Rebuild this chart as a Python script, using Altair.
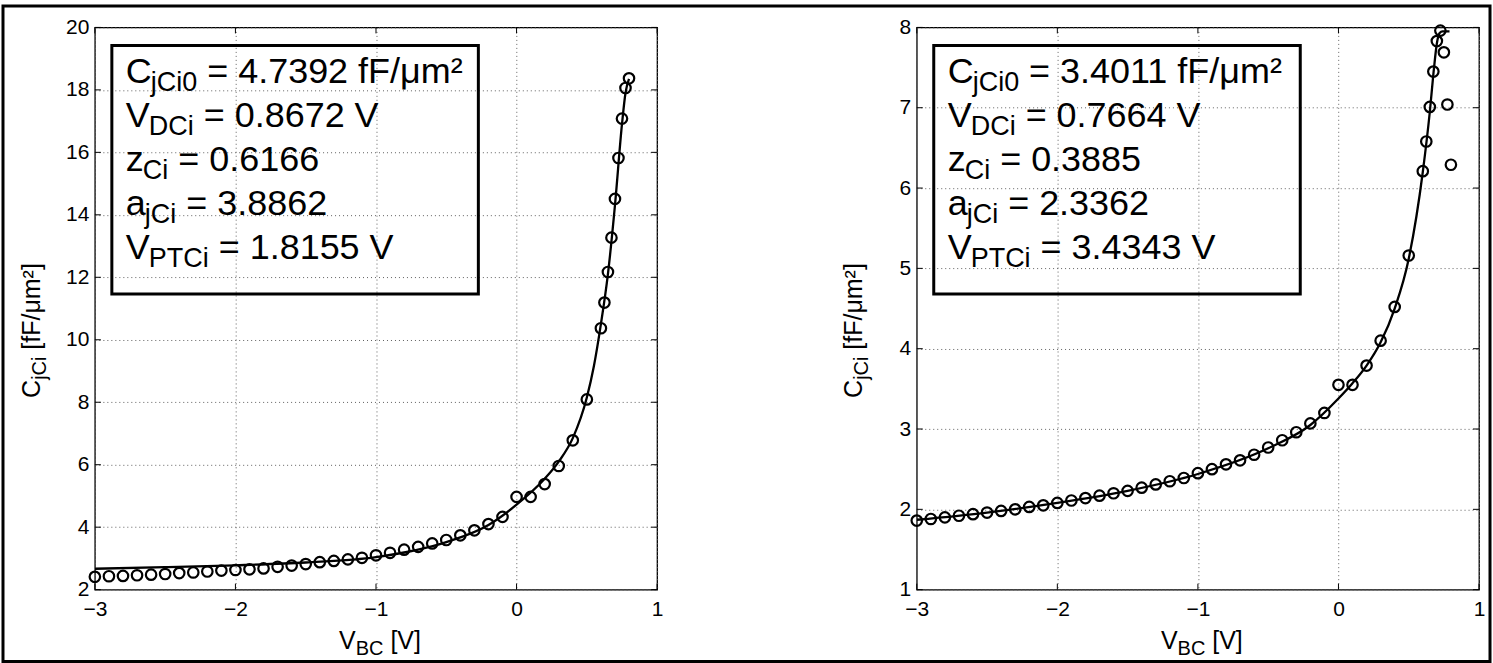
import altair as alt
import pandas as pd

# ---------------- data ----------------
X_TICKS = [-3, -2, -1, 0, 1]
Y_TICKS_L = [2, 4, 6, 8, 10, 12, 14, 16, 18, 20]
Y_TICKS_R = [1, 2, 3, 4, 5, 6, 7, 8]

vbc_l = [-3.0, -2.9, -2.8, -2.7, -2.6, -2.5, -2.4, -2.3, -2.2, -2.1, -2.0, -1.9,
         -1.8, -1.7, -1.6, -1.5, -1.4, -1.3, -1.2, -1.1, -1.0, -0.9, -0.8, -0.7,
         -0.6, -0.5, -0.4, -0.3, -0.2, -0.1, 0.0, 0.1, 0.2, 0.3, 0.4, 0.5,
         0.6, 0.625, 0.65, 0.675, 0.7, 0.725, 0.75, 0.775, 0.8]
cj_l = [2.41, 2.43, 2.44, 2.46, 2.48, 2.50, 2.53, 2.55, 2.58, 2.61, 2.63, 2.65,
        2.68, 2.73, 2.77, 2.82, 2.88, 2.92, 2.97, 3.02, 3.10, 3.18, 3.28, 3.37,
        3.48, 3.59, 3.74, 3.90, 4.10, 4.33, 4.97, 4.97, 5.38, 5.96, 6.78, 8.09,
        10.37, 11.19, 12.17, 13.27, 14.51, 15.82, 17.08, 18.06, 18.37]
fit_v_l = [-3.0, -2.5, -2.0, -1.5, -1.0, -0.5, -0.2, 0.0, 0.2, 0.3, 0.4, 0.5,
           0.55, 0.6, 0.65, 0.7, 0.75, 0.775, 0.8]
fit_c_l = [2.67, 2.72, 2.78, 2.87, 3.04, 3.52, 4.07, 4.72, 5.55, 6.10, 6.85, 8.15,
           9.15, 10.5, 12.1, 14.3, 16.9, 17.9, 18.35]

vbc_r = [-3.0, -2.9, -2.8, -2.7, -2.6, -2.5, -2.4, -2.3, -2.2, -2.1, -2.0, -1.9,
         -1.8, -1.7, -1.6, -1.5, -1.4, -1.3, -1.2, -1.1, -1.0, -0.9, -0.8, -0.7,
         -0.6, -0.5, -0.4, -0.3, -0.2, -0.1, 0.0, 0.1, 0.2, 0.3, 0.4, 0.5,
         0.6, 0.625, 0.65, 0.675, 0.7, 0.725, 0.75, 0.775, 0.8]
cj_r = [1.86, 1.88, 1.90, 1.92, 1.94, 1.96, 1.98, 2.00, 2.03, 2.05, 2.08, 2.11,
        2.14, 2.17, 2.20, 2.23, 2.27, 2.31, 2.35, 2.39, 2.45, 2.50, 2.56, 2.61,
        2.68, 2.77, 2.86, 2.96, 3.07, 3.20, 3.55, 3.55, 3.79, 4.10, 4.52, 5.16,
        6.21, 6.58, 7.01, 7.45, 7.83, 7.96, 7.69, 7.04, 6.29]
fit_v_r = [-3.0, -2.5, -2.0, -1.5, -1.0, -0.5, -0.2, 0.0, 0.1, 0.2, 0.3, 0.4,
           0.5, 0.6, 0.65, 0.68, 0.7, 0.72, 0.74, 0.79]
fit_c_r = [1.87, 1.96, 2.08, 2.23, 2.44, 2.76, 3.05, 3.38, 3.57, 3.79, 4.08, 4.50,
           5.12, 6.20, 6.95, 7.50, 7.80, 7.93, 7.95, 7.95]

par_main = ["C", "V", "z", "a", "V"]
par_sub = ["jCi0", "DCi", "Ci", "jCi", "PTCi"]
par_unit = [" fF/μm²", " V", "", "", " V"]
par_val_l = ["4.7392", "0.8672", "0.6166", "3.8862", "1.8155"]
par_val_r = ["3.4011", "0.7664", "0.3885", "2.3362", "3.4343"]

# ---------------- styling / layout ----------------
FONT = "Liberation Sans"
W = 563
H = 563
TICK = 6

AW = {' ': 0.278, '=': 0.584, '.': 0.278, 'f': 0.278, 'F': 0.611,
      '/': 0.278, 'μ': 0.576, 'm': 0.833, '²': 0.333, 'V': 0.667, 'C': 0.722,
      'z': 0.5, 'a': 0.556, 'j': 0.222, 'i': 0.222, 'D': 0.722, 'P': 0.667,
      'T': 0.611, 'B': 0.667, '[': 0.278, ']': 0.278}


def tw(s, size):
    return sum(AW.get(ch, 0.556) for ch in s) * size


ONE = pd.DataFrame({"k": [0]})


def txt(s, x, y, size, angle=0):
    return alt.Chart(ONE).mark_text(
        font=FONT, fontSize=size, color="black", align="left",
        baseline="alphabetic", angle=angle
    ).encode(x=alt.value(x), y=alt.value(y), text=alt.value(s))


def panel(v, c, fv, fc, ydom, yticks, vals, frame=False):
    xs = alt.Scale(domain=[-3, 1], nice=False, zero=False)
    ys = alt.Scale(domain=ydom, nice=False, zero=False)
    common = dict(title=None, grid=True, tickSize=0, domain=False,
                  labelFontSize=21, labelFont=FONT, labelColor="black",
                  gridColor="#606060", gridDash=[1, 3], gridWidth=1,
                  labelFlush=False, format="d")
    xax = alt.Axis(values=X_TICKS, labelPadding=9, **common)
    yax = alt.Axis(values=yticks, labelPadding=6, **common)

    def X(f):
        return alt.X(f, type="quantitative", scale=xs, axis=xax)

    def Y(f):
        return alt.Y(f, type="quantitative", scale=ys, axis=yax)

    pts = alt.Chart(pd.DataFrame({"v": v, "c": c})).mark_point(
        shape="circle", filled=False, size=110, strokeWidth=2.2,
        color="black", opacity=1
    ).encode(x=X("v"), y=Y("c"))
    fit = alt.Chart(pd.DataFrame({"v": fv, "c": fc})).mark_line(
        color="black", strokeWidth=2.3, interpolate="monotone", clip=True
    ).encode(x=X("v"), y=Y("c"))

    xt = alt.Chart(pd.DataFrame({"v": X_TICKS}))
    yt = alt.Chart(pd.DataFrame({"c": yticks}))
    rule = dict(color="black", strokeWidth=1)
    ticks = [
        xt.mark_rule(**rule).encode(x=X("v"), y=alt.value(H), y2=alt.value(H - TICK)),
        xt.mark_rule(**rule).encode(x=X("v"), y=alt.value(0), y2=alt.value(TICK)),
        yt.mark_rule(**rule).encode(y=Y("c"), x=alt.value(0), x2=alt.value(TICK)),
        yt.mark_rule(**rule).encode(y=Y("c"), x=alt.value(W), x2=alt.value(W - TICK)),
    ]

    # parameter box
    box = alt.Chart(ONE).mark_rect(
        fillOpacity=0, stroke="black", strokeWidth=3
    ).encode(x=alt.value(17), x2=alt.value(384), y=alt.value(18), y2=alt.value(267))
    S, s = 36, 27
    texts = []
    for i in range(5):
        by = 56 + 44 * i
        x0 = 31
        texts.append(txt(par_main[i], x0, by, S))
        x1 = x0 + tw(par_main[i], S) - 1
        texts.append(txt(par_sub[i], x1, by + 8, s))
        x2 = x1 + tw(par_sub[i], s) + tw(" ", S)
        texts.append(txt("= " + vals[i] + par_unit[i], x2, by, S))

    # axis titles with subscripts
    T, t = 25, 20
    # x title: V_BC [V]
    Lx = tw("V", T) + tw("BC", t) + tw(" [V]", T)
    xx0 = W / 2 - Lx / 2 + 4
    xb = 622
    xt_parts = [
        txt("V", xx0, xb, T),
        txt("BC", xx0 + tw("V", T), xb + 6, t),
        txt("[V]", xx0 + tw("V", T) + tw("BC", t) + tw(" ", T), xb, T),
    ]
    # y title: C_jCi [fF/μm²]  (rotated)
    Ly = tw("C", T) + tw("jCi", t) + tw(" [fF/μm²]", T)
    yb = -55
    yy0 = H / 2 + 22 + Ly / 2
    yt_parts = [
        txt("C", yb, yy0, T, 270),
        txt("jCi", yb + 6, yy0 - tw("C", T), t, 270),
        txt("[fF/μm²]", yb, yy0 - tw("C", T) - tw("jCi", t) - tw(" ", T), T, 270),
    ]

    layers = [fit, pts] + ticks + [box] + texts + xt_parts + yt_parts
    if frame:
        layers.append(alt.Chart(ONE).mark_rect(
            fillOpacity=0, stroke="black", strokeWidth=3
        ).encode(x=alt.value(-92), x2=alt.value(1397),
                 y=alt.value(-21.5), y2=alt.value(635)))
    return alt.layer(*layers).properties(width=W, height=H)


left = panel(vbc_l, cj_l, fit_v_l, fit_c_l, [2, 20], Y_TICKS_L, par_val_l, frame=True)
right = panel(vbc_r, cj_r, fit_v_r, fit_c_r, [1, 8], Y_TICKS_R, par_val_r)

chart = alt.hconcat(left, right, spacing=260, bounds="flush").configure_view(
    stroke="black", strokeWidth=1.3
).properties(
    padding={"left": 0, "top": 3, "right": 0, "bottom": 0},
    background="white"
)

chart.save("out.html", embed_options={"renderer": "svg", "actions": False})
